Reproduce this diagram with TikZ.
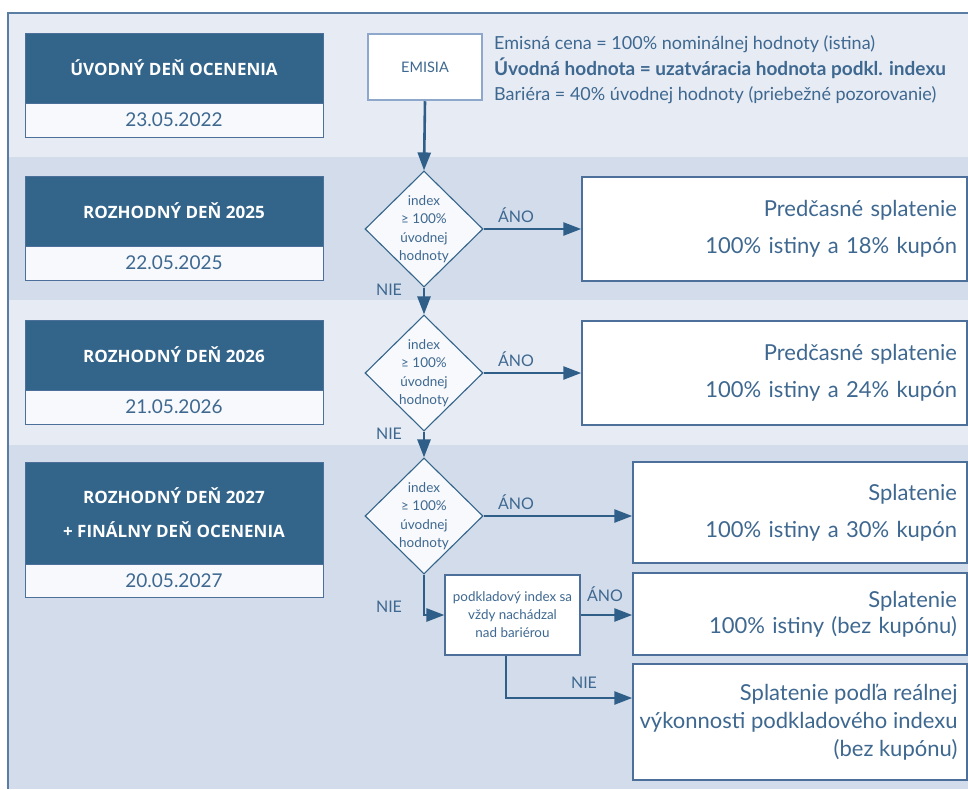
\documentclass[tikz,border=0pt]{standalone}
\usepackage{fontspec}
\setmainfont{Lato}
\newfontfamily\headfont{Open Sans}
\usetikzlibrary{shapes.geometric,arrows.meta}
\definecolor{bandA}{HTML}{E6EBF4}
\definecolor{bandB}{HTML}{D2DCEA}
\definecolor{navy}{HTML}{33648A}
\definecolor{linecol}{HTML}{2F5F88}
\definecolor{textblue}{HTML}{3E6890}
\definecolor{lightfill}{HTML}{F7F9FC}
\definecolor{boxborder}{HTML}{4C7099}
\definecolor{emisborder}{HTML}{8DA8CA}
\definecolor{framecol}{HTML}{5A7DA3}
\begin{document}
\begin{tikzpicture}[x=1pt,y=-1pt,
  headbox/.style={fill=navy,draw=boxborder,line width=0.8pt,text=white,inner sep=0pt,
    minimum width=298pt,align=center,font=\headfont\bfseries\fontsize{17}{34}\selectfont},
  datebox/.style={fill=lightfill,draw=boxborder,line width=0.8pt,text=textblue,inner sep=0pt,
    minimum width=298pt,font=\fontsize{19}{20}\selectfont},
  dia/.style={diamond,fill=lightfill,draw=navy,line width=1.1pt,inner sep=0pt,
    minimum width=118pt,minimum height=116pt},
  diatext/.style={text=textblue,align=center,font=\fontsize{13.5}{18.5}\selectfont},
  outbox/.style={fill=white,draw=boxborder,line width=1.5pt,text=textblue,inner xsep=10pt,
    inner ysep=0pt,align=right,font=\fontsize{22}{#1}\selectfont},
  outtext/.style={text=textblue,anchor=east,inner sep=0pt,align=right,font=\fontsize{22}{#1}\selectfont},
  arr/.style={draw=linecol,line width=2.6pt,-{Triangle[length=18pt,width=13pt]}},
  lbl/.style={text=textblue,font=\fontsize{16}{18}\selectfont},
  info/.style={text=textblue,anchor=west,inner sep=0pt,font=\fontsize{18}{20}\selectfont}
]
\useasboundingbox (0,0) rectangle (968,789);
% bands
\fill[bandA] (8,13) rectangle (968,157);
\fill[bandB] (8,157) rectangle (968,300);
\fill[bandA] (8,300) rectangle (968,445);
\fill[bandB] (8,445) rectangle (968,789);
\draw[framecol,line width=1.5pt] (968,13) -- (8,13) -- (8,789);

% left column
\node[headbox,minimum height=70pt] (h1) at (174,68) {ÚVODNÝ DEŇ OCENENIA};
\node[datebox,minimum height=34pt] (t1) at (174,120) {23.05.2022};
\node[headbox,minimum height=70pt] (h2) at (174,211) {ROZHODNÝ DEŇ 2025};
\node[datebox,minimum height=34pt] (t2) at (174,263) {22.05.2025};
\node[headbox,minimum height=70pt] (h3) at (174,355) {ROZHODNÝ DEŇ 2026};
\node[datebox,minimum height=34pt] (t3) at (174,407) {21.05.2026};
\node[headbox,minimum height=102pt] (h4) at (174,513) {ROZHODNÝ DEŇ 2027\\+ FINÁLNY DEŇ OCENENIA};
\node[datebox,minimum height=33pt] (t4) at (174,580.5) {20.05.2027};

% emisia
\node[fill=white,draw=emisborder,line width=2.5pt,minimum width=114pt,minimum height=66pt,
  inner sep=0pt,text=textblue,font=\fontsize{14.5}{16}\selectfont] (em) at (425,67) {EMISIA};
\node[info] (i1) at (494,44) {Emisná cena = 100\% nominálnej hodnoty (istina)};
\node[info,font=\bfseries\fontsize{19}{20}\selectfont] (i2) at (494,68) {Úvodná hodnota = uzatváracia hodnota podkl. indexu};
\node[info] (i3) at (494,95) {Bariéra = 40\% úvodnej hodnoty (priebežné pozorovanie)};

% diamonds
\node[dia] (d1) at (424,229) {};
\node[diatext] at (d1) {index\\≥ 100\%\\úvodnej\\hodnoty};
\node[dia] (d2) at (424,373) {};
\node[diatext] at (d2) {index\\≥ 100\%\\úvodnej\\hodnoty};
\node[dia] (d3) at (424,516) {};
\node[diatext] at (d3) {index\\≥ 100\%\\úvodnej\\hodnoty};

% barrier box
\node[fill=white,draw=boxborder,line width=1.2pt,minimum width=135pt,minimum height=80pt,
  inner sep=0pt,text=textblue,align=center,font=\fontsize{13.4}{18}\selectfont] (pk) at (512.5,615)
  {podkladový index sa\\vždy nachádzal\\nad bariérou};

% outcome boxes
\node[outbox=37,text width=365pt,minimum height=104pt] (o1) at (774.5,229)
  {Predčasné splatenie\\100\% istiny a 18\% kupón};
\node[outbox=37,text width=365pt,minimum height=104pt] (o2) at (774.5,373)
  {Predčasné splatenie\\100\% istiny a 24\% kupón};
\node[outbox=37,text width=314pt,minimum height=101pt] (o3) at (800,512.5)
  {Splatenie\\100\% istiny a 30\% kupón};
\node[outbox=26,text width=314pt,minimum height=82pt] (o4) at (800,614)
  {Splatenie\\100\% istiny (bez kupónu)};
\node[outbox=28,text width=314pt,minimum height=116pt] (o5) at (800,722) {};
\node[outtext=28] (o5t) at ([xshift=-10pt]o5.east)
  {Splatenie podľa reálnej\\výkonnosti podkladového indexu\\(bez kupónu)};

% connectors
\draw[arr] (em.south) -- (d1.north);
\draw[arr] (d1.south) -- (d2.north);
\draw[arr] (d2.south) -- (d3.north);
\draw[arr] (d1.east) -- (d1.east -| o1.west);
\draw[arr] (d2.east) -- (d2.east -| o2.west);
\draw[arr] (d3.east) -- (d3.east -| o3.west);
\draw[arr] (d3.south) |- (pk.west);
\draw[arr] (pk.east) -- (pk.east -| o4.west);
\draw[arr] ([xshift=-6.5pt]pk.south) |- ([yshift=24pt]o5.west);

% labels
\node[lbl] (a1) at (516,215) {ÁNO};
\node[lbl] (a2) at (516,359) {ÁNO};
\node[lbl] (a3) at (516,502) {ÁNO};
\node[lbl] (a4) at (605,594) {ÁNO};
\node[lbl] (n1) at (389,290) {NIE};
\node[lbl] (n2) at (389,434) {NIE};
\node[lbl] (n3) at (389,607) {NIE};
\node[lbl] (n4) at (584,683) {NIE};
\end{tikzpicture}
\end{document}
